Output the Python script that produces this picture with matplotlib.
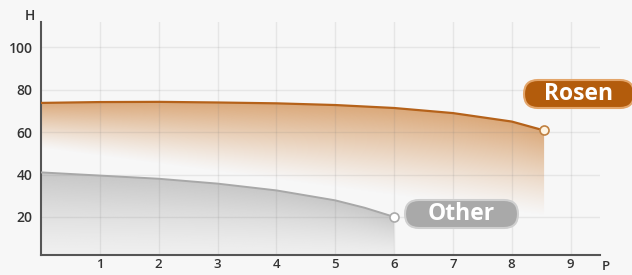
import numpy as np
import matplotlib
matplotlib.use("Agg")
import matplotlib.pyplot as plt
from matplotlib.patches import Polygon, FancyBboxPatch
from matplotlib.transforms import IdentityTransform
from matplotlib.colors import to_rgb

# Data
rosen_x = [0, 1, 2, 3, 4, 5, 6, 7, 8, 8.55]
rosen_y = [73.8, 74.2, 74.3, 74.0, 73.6, 72.8, 71.4, 69.0, 65.0, 60.8]
other_x = [0, 1, 2, 3, 4, 5, 5.5, 6]
other_y = [41, 39.5, 38, 35.7, 32.5, 27.8, 24.3, 20]
x_ticks = [1, 2, 3, 4, 5, 6, 7, 8, 9]
y_ticks = [20, 40, 60, 80, 100]

plt.rcParams['font.family'] = ['Open Sans', 'DejaVu Sans']

W, H = 632, 275
BG = '#f7f7f7'
fig = plt.figure(figsize=(W/100, H/100), dpi=100)
fig.patch.set_facecolor(BG)
ax = fig.add_axes([41/W, (H-255)/H, (600-41)/W, (255-22)/H])
ax.set_facecolor(BG)
ax.set_xlim(0, 9.5)
ax.set_ylim(2, 112)

for xv in x_ticks:
    ax.axvline(xv, color='#777777', alpha=0.13, lw=1.0, zorder=2)
for yv in y_ticks:
    ax.axhline(yv, color='#777777', alpha=0.13, lw=1.0, zorder=2)


def gradient_fill(xs, ys, color, fade_l, fade_r, amax, amin, power, base):
    xs = np.asarray(xs, float); ys = np.asarray(ys, float)
    verts = [(xs[0], base)] + list(zip(xs, ys)) + [(xs[-1], base)]
    poly = Polygon(verts, closed=True, facecolor='none', edgecolor='none')
    ax.add_patch(poly)
    nx, ny = 300, 300
    gx = np.linspace(xs[0], xs[-1], nx)
    gy = np.linspace(base, ys.max(), ny)
    X, Y = np.meshgrid(gx, gy)
    top = np.interp(X, xs, ys)
    fade = fade_l + (fade_r - fade_l) * (X - xs[0]) / (xs[-1] - xs[0])
    t = np.clip((Y - fade) / (top - fade), 0, 1)
    alpha = amin + (amax - amin) * t ** power
    rgba = np.zeros((ny, nx, 4))
    rgba[..., :3] = to_rgb(color)
    rgba[..., 3] = alpha
    im = ax.imshow(rgba, extent=(xs[0], xs[-1], base, ys.max()), origin='lower',
                   aspect='auto', zorder=1, interpolation='bilinear')
    im.set_clip_path(poly)

gradient_fill(rosen_x, rosen_y, '#c9772a', 52, 20, 0.62, 0.0, 1.2, 2)
gradient_fill(other_x, other_y, '#a0a0a0', 0, 0, 0.55, 0.08, 1.4, 2)

ax.plot(rosen_x, rosen_y, color='#b5621a', lw=1.6, zorder=3, solid_capstyle='butt')
ax.plot(other_x, other_y, color='#a8a8a8', lw=1.4, zorder=3)
ax.plot(rosen_x[-1], rosen_y[-1], 'o', ms=6.5, mfc='#fff4e2', mec='#c08040', mew=1.2, zorder=4)
ax.plot(other_x[-1], other_y[-1], 'o', ms=6.5, mfc='white', mec='#aaaaaa', mew=1.2, zorder=4)

ax.set_xticks(x_ticks)
ax.set_yticks(y_ticks)
ax.tick_params(axis='y', length=0, labelsize=10, colors='#333333', pad=6)
ax.tick_params(axis='x', length=0, labelsize=9.5, colors='#333333', pad=2.5)
for lab in ax.get_xticklabels() + ax.get_yticklabels():
    lab.set_fontweight('semibold')
for s in ['top', 'right']:
    ax.spines[s].set_visible(False)
for s in ['left', 'bottom']:
    ax.spines[s].set_color('#555555')
    ax.spines[s].set_linewidth(1.5)

fig.text(30/W, 1-16/H, 'H', ha='center', va='center', fontsize=10, color='#333333', fontweight='semibold')
fig.text(606/W, 1-266/H, 'P', ha='center', va='center', fontsize=9.5, color='#333333', fontweight='semibold')


def badge(x0, y0, w, h, fc, ec, text):
    # pixel coordinates measured from the top-left of the image
    p = FancyBboxPatch((x0, H - y0 - h), w, h,
                       boxstyle=f'round,pad=0,rounding_size={h/2}',
                       fc=fc, ec=ec, lw=1.5, transform=IdentityTransform(), zorder=5)
    fig.add_artist(p)
    fig.text((x0 + w/2)/W, 1 - (y0 + h/2 + 0.5)/H, text, ha='center', va='center',
             fontsize=16.5, color='white', fontweight='bold', zorder=6)

badge(524, 80, 110, 28, '#b35c0c', '#e3a56a', 'Rosen')
badge(405, 200, 113, 28, '#a9a9a9', '#cfcfcf', 'Other')

fig.savefig('out.png', dpi=100, facecolor=fig.get_facecolor())
